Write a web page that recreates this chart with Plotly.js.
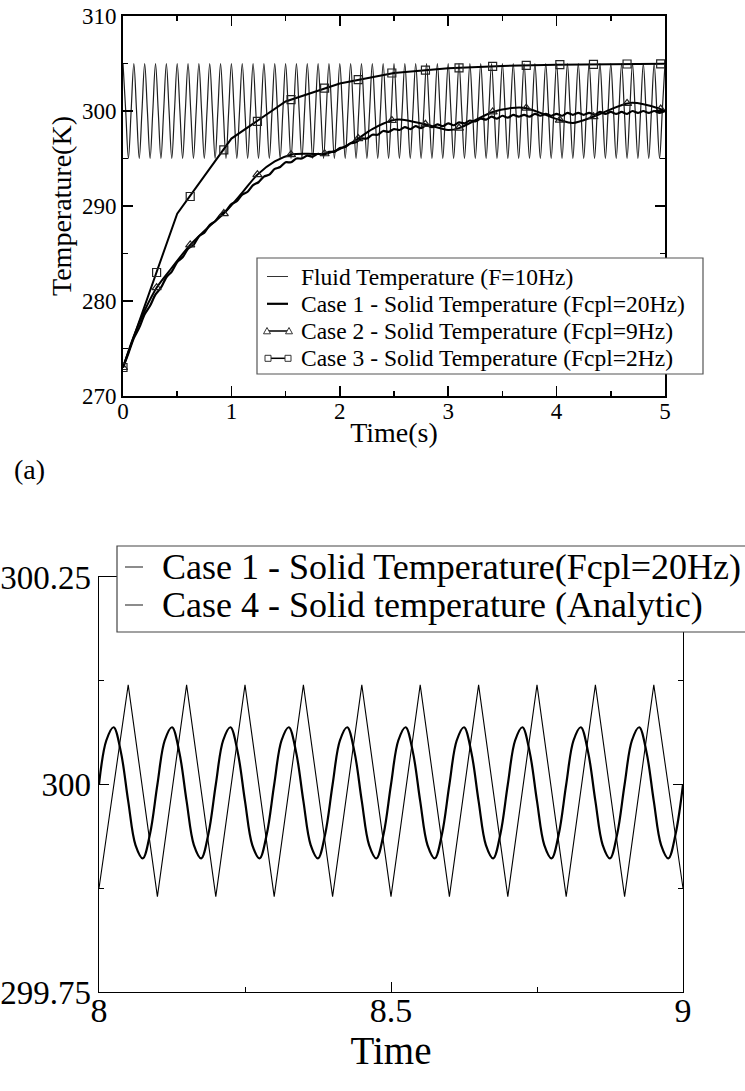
<!DOCTYPE html>
<html>
<head>
<meta charset="utf-8">
<script src="https://cdn.plot.ly/plotly-3.0.1.min.js"></script>
<style>html,body{margin:0;padding:0;background:#fff;}#chart{width:745px;height:1091px;}</style>
</head>
<body>
<div id="chart"></div>
<script>
// ---------------- DATA ----------------
// Panel (a): fluid temperature, sampled every 0.025 s from t = 0
const fluidStart = 0, fluidStep = 0.025;
const fluidTemp = [305,300,295,300,305,300,295,300,305,300,295,300,305,300,295,300,305,300,295,300,
305,300,295,300,305,300,295,300,305,300,295,300,305,300,295,300,305,300,295,300,
305,300,295,300,305,300,295,300,305,300,295,300,305,300,295,300,305,300,295,300,
305,300,295,300,305,300,295,300,305,300,295,300,305,300,295,300,305,300,295,300,
305,300,295,300,305,300,295,300,305,300,295,300,305,300,295,300,305,300,295,300,
305,300,295,300,305,300,295,300,305,300,295,300,305,300,295,300,305,300,295,300,
305,300,295,300,305,300,295,300,305,300,295,300,305,300,295,300,305,300,295,300,
305,300,295,300,305,300,295,300,305,300,295,300,305,300,295,300,305,300,295,300,
305,300,295,300,305,300,295,300,305,300,295,300,305,300,295,300,305,300,295,300,
305,300,295,300,305,300,295,300,305,300,295,300,305,300,295,300,305,300,295,300,305];

// Case 1 (Fcpl=20Hz), sampled every 0.05 s from t = 0
const case1Start = 0, case1Step = 0.05;
const case1Temp = [273,274.5,276.1,277.2,278.6,279.5,280.7,281.4,282.5,283.1,
284.1,284.6,285.5,285.9,286.8,287.2,288.0,288.4,289.1,289.5,
290.2,290.5,291.2,291.5,292.2,292.5,293.1,293.3,293.9,294.1,
294.6,294.6,295.0,295.0,295.3,295.2,295.5,295.4,295.7,295.7,
296.1,296.2,296.6,296.7,297.1,297.1,297.5,297.5,297.9,297.8,
298.1,298.0,298.3,298.1,298.4,298.2,298.5,298.3,298.6,298.4,
298.7,298.5,298.8,298.7,299.0,298.9,299.2,299.1,299.4,299.2,
299.5,299.3,299.6,299.4,299.6,299.4,299.7,299.5,299.7,299.5,
299.7,299.5,299.8,299.6,299.8,299.6,299.8,299.6,299.9,299.7,
299.9,299.7,299.9,299.7,300.0,299.8,300.0,299.8,300.0,299.8,300.0];

// Case 2 (Fcpl=9Hz)
const case2Time = [0,0.1,0.2,0.31,0.45,0.62,0.8,0.93,1.1,1.24,1.4,1.55,1.7,1.86,2.0,2.17,2.3,2.48,2.55,2.79,3.0,3.1,3.41,3.62,3.72,4.03,4.15,4.34,4.68,4.96,5.0];
const case2Temp = [273,276.3,279.0,281.4,283.5,285.9,287.9,289.2,291.4,293.3,294.7,295.4,295.5,295.5,296.0,297.1,298.1,299.0,299.1,298.6,298.0,298.2,299.9,300.35,300.3,299.05,298.75,299.4,300.85,300.2,300.0];
const case2MarkTime = [0,0.31,0.62,0.93,1.24,1.55,1.86,2.17,2.48,2.79,3.1,3.41,3.72,4.03,4.34,4.65,4.96];
const case2MarkTemp = [273,281.4,285.9,289.2,293.3,295.4,295.5,297.1,299.0,298.6,298.2,299.9,300.3,299.05,299.4,300.8,300.2];

// Case 3 (Fcpl=2Hz)
const case3Time = [0,0.5,1.0,1.5,2.0,2.5,3.0,3.5,4.0,4.5,5.0];
const case3Temp = [273,289.2,297.1,301.0,302.9,304.0,304.5,304.75,304.88,304.94,304.97];
const case3MarkTime = [0,0.31,0.62,0.93,1.24,1.55,1.86,2.17,2.48,2.79,3.1,3.41,3.72,4.03,4.34,4.65,4.96];
const case3MarkTemp = [273,283.0,291.0,295.9,298.9,301.2,302.4,303.3,304.0,304.3,304.55,304.7,304.8,304.88,304.9,304.95,304.97];

// Panel (b): Case 1 zoomed, sampled every 0.05 s from t = 8
const zoomCase1Start = 8, zoomCase1Step = 0.05;
const zoomCase1Temp = [299.875,300.12,299.865,300.12,299.865,300.12,299.865,300.12,299.865,300.12,
299.865,300.12,299.865,300.12,299.865,300.12,299.865,300.12,299.865,300.12,299.875];
// Case 4 analytic, sampled every 0.0125 s from t = 8
const case4Start = 8, case4Step = 0.0125;
const case4Temp = [300.0,300.053,300.069,300.039,299.98,299.927,299.911,299.941,
300.0,300.053,300.069,300.039,299.98,299.927,299.911,299.941,
300.0,300.053,300.069,300.039,299.98,299.927,299.911,299.941,
300.0,300.053,300.069,300.039,299.98,299.927,299.911,299.941,
300.0,300.053,300.069,300.039,299.98,299.927,299.911,299.941,
300.0,300.053,300.069,300.039,299.98,299.927,299.911,299.941,
300.0,300.053,300.069,300.039,299.98,299.927,299.911,299.941,
300.0,300.053,300.069,300.039,299.98,299.927,299.911,299.941,
300.0,300.053,300.069,300.039,299.98,299.927,299.911,299.941,
300.0,300.053,300.069,300.039,299.98,299.927,299.911,299.941,300.0];

// Text
const topLegendLabels = ['Fluid Temperature (F=10Hz)','Case 1 - Solid Temperature (Fcpl=20Hz)','Case 2 - Solid Temperature (Fcpl=9Hz)','Case 3 - Solid Temperature (Fcpl=2Hz)'];
const bottomLegendLabels = ['Case 1 - Solid Temperature(Fcpl=20Hz)','Case 4 - Solid temperature (Analytic)'];
const topXTitle = 'Time(s)', topYTitle = 'Temperature(K)', bottomXTitle = 'Time', panelLabel = '(a)';

// ---------------- LAYOUT HELPERS ----------------
const W = 745, H = 1091;
const px = v => v / W;
const py = v => 1 - v / H;
const FONT = 'Liberation Serif';

const traces = [
  {x0: fluidStart, dx: fluidStep, y: fluidTemp, xaxis:'x', yaxis:'y', mode:'lines',
   line:{color:'#1e1e1e', width:1.2, shape:'spline', smoothing:1}, name: topLegendLabels[0], showlegend:false},
  {x0: case1Start, dx: case1Step, y: case1Temp, xaxis:'x', yaxis:'y', mode:'lines',
   line:{color:'#000', width:2.2, shape:'spline', smoothing:0.8}, name: topLegendLabels[1], showlegend:false},
  {x: case2Time, y: case2Temp, xaxis:'x', yaxis:'y', mode:'lines',
   line:{color:'#000', width:2, shape:'spline', smoothing:0.9}, name: topLegendLabels[2], showlegend:false},
  {x: case2MarkTime, y: case2MarkTemp, xaxis:'x', yaxis:'y', mode:'markers',
   marker:{symbol:'triangle-up-open', size:8, color:'#222', line:{width:1.2}}, name: topLegendLabels[2], showlegend:false},
  {x: case3Time, y: case3Temp, xaxis:'x', yaxis:'y', mode:'lines',
   line:{color:'#000', width:2}, name: topLegendLabels[3], showlegend:false},
  {x: case3MarkTime, y: case3MarkTemp, xaxis:'x', yaxis:'y', mode:'markers',
   marker:{symbol:'square-open', size:8, color:'#222', line:{width:1.2}}, name: topLegendLabels[3], showlegend:false},
  {x0: zoomCase1Start, dx: zoomCase1Step, y: zoomCase1Temp, xaxis:'x2', yaxis:'y2', mode:'lines',
   line:{color:'#000', width:1.1}, name: bottomLegendLabels[0], showlegend:false},
  {x0: case4Start, dx: case4Step, y: case4Temp, xaxis:'x2', yaxis:'y2', mode:'lines',
   line:{color:'#000', width:2.2, shape:'spline', smoothing:1}, name: bottomLegendLabels[1], showlegend:false}
];

function axisBase(extra) {
  return Object.assign({
    showline:true, linecolor:'#000', mirror:'ticks', ticks:'inside', tickcolor:'#000',
    showgrid:false, zeroline:false, fixedrange:true
  }, extra);
}

const layout = {
  width: W, height: H,
  margin:{l:0, r:0, t:0, b:0},
  paper_bgcolor:'#fff', plot_bgcolor:'#fff',
  showlegend:false,
  font:{family:FONT, color:'#000'},
  xaxis: axisBase({domain:[px(123), px(665)], anchor:'y', range:[0,5], tick0:0, dtick:1,
    ticklen:10, tickwidth:1.5, linewidth:2, ticklabelstandoff:-7,
    minor:{ticks:'inside', ticklen:5, dtick:0.5, tick0:0, tickwidth:1.5, tickcolor:'#000'},
    tickfont:{family:FONT, size:23, color:'#000'},
    title:{text:topXTitle, font:{family:FONT, size:28, color:'#000'}, standoff:0}}),
  yaxis: axisBase({domain:[py(396), py(16)], anchor:'x', range:[270,310], tick0:270, dtick:10,
    ticklen:10, tickwidth:1.5, linewidth:2,
    minor:{ticks:'inside', ticklen:5, dtick:5, tick0:270, tickwidth:1.5, tickcolor:'#000'},
    tickfont:{family:FONT, size:23, color:'#000'},
    title:{text:topYTitle, font:{family:FONT, size:28, color:'#000'}, standoff:2}}),
  xaxis2: axisBase({domain:[px(99), px(683)], anchor:'y2', range:[8,9], tick0:8, dtick:0.5,
    ticklen:10, tickwidth:1, linewidth:1.3, tickformat:'.1~f', ticklabelstandoff:-12,
    minor:{ticks:'inside', ticklen:5, dtick:0.25, tick0:8, tickwidth:1, tickcolor:'#000'},
    tickfont:{family:FONT, size:34, color:'#000'},
    title:{text:bottomXTitle, font:{family:FONT, size:39, color:'#000'}, standoff:0}}),
  yaxis2: axisBase({domain:[py(992), py(577)], anchor:'x2', range:[299.75,300.25], tick0:299.75, dtick:0.25,
    ticklen:10, tickwidth:1, linewidth:1.3, tickformat:'.2~f',
    minor:{ticks:'inside', ticklen:5, dtick:0.125, tick0:299.75, tickwidth:1, tickcolor:'#000'},
    tickfont:{family:FONT, size:33, color:'#000'}}),
  shapes: [],
  annotations: []
};

// panel label
layout.annotations.push({xref:'paper', yref:'paper', x:px(29), y:py(469), text:panelLabel,
  showarrow:false, xanchor:'center', yanchor:'middle', font:{family:FONT, size:28, color:'#000'}});

// ---- key for panel (a), drawn as a boxed legend ----
function seg(x0, x1, y, color, width) {
  return {type:'line', xref:'paper', yref:'paper', x0:px(x0), x1:px(x1), y0:py(y), y1:py(y),
    line:{color:color, width:width}, layer:'above'};
}
function tri(cx, cy, r) {
  const p = `M${px(cx - r)},${py(cy + r*0.8)} L${px(cx + r)},${py(cy + r*0.8)} L${px(cx)},${py(cy - r)} Z`;
  return {type:'path', xref:'paper', yref:'paper', path:p, line:{color:'#333', width:1}, fillcolor:'#fff', layer:'above'};
}
function sq(cx, cy, r) {
  return {type:'rect', xref:'paper', yref:'paper', x0:px(cx - r), x1:px(cx + r), y0:py(cy + r), y1:py(cy - r),
    line:{color:'#333', width:1}, fillcolor:'#fff', layer:'above'};
}
layout.shapes.push({type:'rect', xref:'paper', yref:'paper', x0:px(257), x1:px(703), y0:py(374), y1:py(258),
  line:{color:'#555', width:1.2}, fillcolor:'#fff', layer:'above'});
const topRows = [276.5, 303.8, 331, 358.3];
layout.shapes.push(seg(267, 288, topRows[0], '#333', 1));
layout.shapes.push(seg(267, 288, topRows[1], '#000', 2.2));
layout.shapes.push(seg(267, 289, topRows[2], '#000', 1.5));
layout.shapes.push(tri(267, topRows[2], 3.5));
layout.shapes.push(tri(289, topRows[2], 3.5));
layout.shapes.push(seg(268, 288, topRows[3], '#000', 1.5));
layout.shapes.push(sq(268, topRows[3], 3));
layout.shapes.push(sq(288, topRows[3], 3));
topLegendLabels.forEach((t, i) => {
  layout.annotations.push({xref:'paper', yref:'paper', x:px(299), y:py(topRows[i]), text:t, showarrow:false,
    xanchor:'left', yanchor:'middle', font:{family:FONT, size:23.5, color:'#000'}});
});

// ---- key for panel (b) ----
layout.shapes.push({type:'rect', xref:'paper', yref:'paper', x0:px(117), x1:px(790), y0:py(632), y1:py(546),
  line:{color:'#444', width:1.2}, fillcolor:'#fff', layer:'above'});
const botRows = [567, 605];
botRows.forEach(r => layout.shapes.push(seg(125, 143, r, '#666', 1.5)));
bottomLegendLabels.forEach((t, i) => {
  layout.annotations.push({xref:'paper', yref:'paper', x:px(160), y:py(botRows[i]), text:t, showarrow:false,
    xanchor:'left', yanchor:'middle', font:{family:FONT, size:36, color:'#000'}});
});

Plotly.newPlot('chart', traces, layout, {staticPlot:true, displayModeBar:false});
</script>
</body>
</html>
